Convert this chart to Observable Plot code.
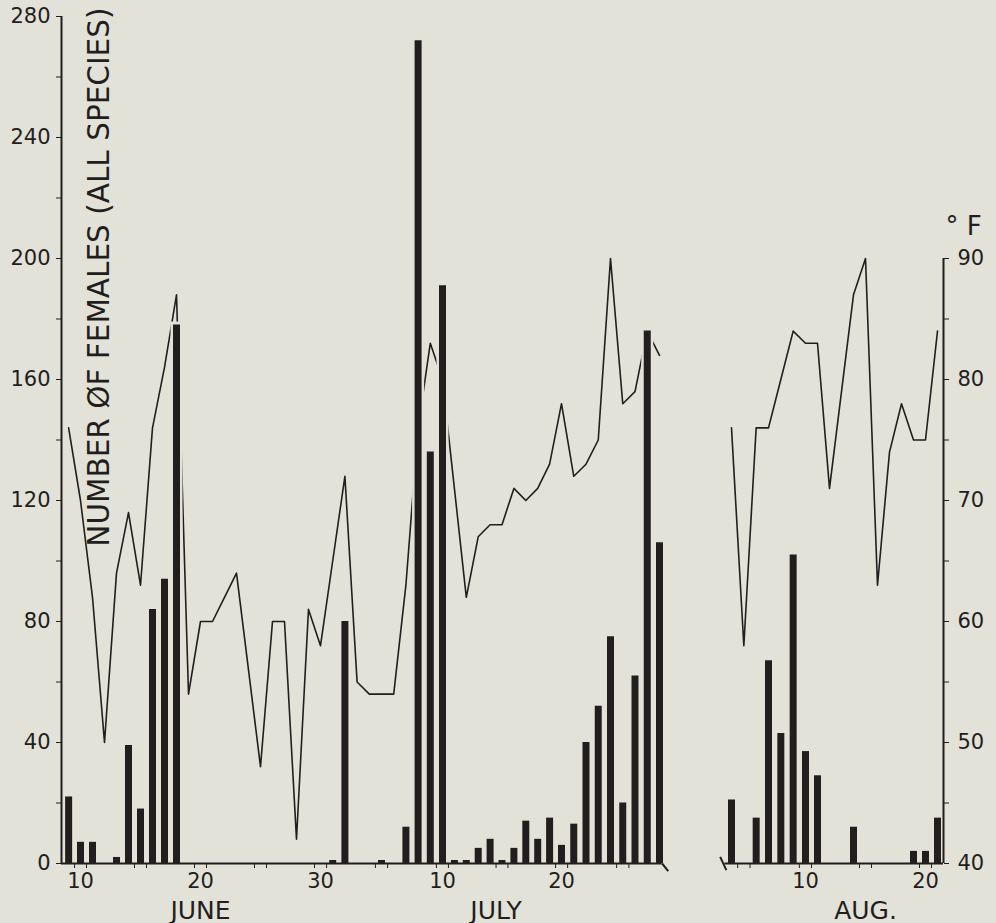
<!DOCTYPE html>
<html>
<head>
<meta charset="utf-8">
<script src="https://cdn.jsdelivr.net/npm/d3@7"></script>
<script src="https://cdn.jsdelivr.net/npm/@observablehq/plot@0.6"></script>
<style>
  html, body { margin: 0; padding: 0; background: #e2e2d8; }
  #chart svg { display: block; }
</style>
</head>
<body>
<div id="chart"></div>
<script>
// Day index of the season: June 1 = 1, July 1 = 31, August 1 = 62

// Bars: number of females (all species) per day
const barDays = [9, 10, 11, 13, 14, 15, 16, 17, 18,
  31, 32, 35, 37, 38, 39, 40, 41, 42, 43, 44, 45, 46, 47, 48, 49, 50, 51, 52, 53, 54, 55, 56, 57, 58,
  65, 67, 68, 69, 70, 71, 72, 75, 80, 81, 82];
const barCounts = [22, 7, 7, 2, 39, 18, 84, 94, 178,
  1, 80, 1, 12, 272, 136, 191, 1, 1, 5, 8, 1, 5, 14, 8, 15, 6, 13, 40, 52, 75, 20, 62, 176, 106,
  21, 15, 67, 43, 102, 37, 29, 12, 4, 4, 15];

// Temperature (°F), June 9 – July 28
const tempDaysJunJul = [9, 10, 11, 12, 13, 14, 15, 16, 17, 18,
  19, 20, 21, 22, 23, 24, 25, 26, 27, 28, 29, 30,
  31, 32, 33, 34, 35, 36, 37, 38, 39, 40, 41, 42, 43, 44, 45, 46, 47, 48, 49, 50,
  51, 52, 53, 54, 55, 56, 57, 58];
const tempsJunJul = [76, 70, 62, 50, 64, 69, 63, 76, 81, 87,
  54, 60, 60, 62, 64, 56, 48, 60, 60, 42, 61, 58,
  65, 72, 55, 54, 54, 54, 63, 76, 83, 80, 71, 62, 67, 68, 68, 71, 70, 71, 73, 78,
  72, 73, 75, 90, 78, 79, 84, 82];

// Temperature (°F), August 4 – August 21
const tempDaysAug = [65, 66, 67, 68, 69, 70, 71, 72, 73, 74, 75, 76, 77, 78, 79, 80, 81, 82];
const tempsAug = [76, 58, 76, 76, 80, 84, 83, 83, 71, 79, 87, 90, 63, 74, 78, 75, 75, 84];

// Axis ticks and labels
const countTicks = [0, 20, 40, 60, 80, 100, 120, 140, 160, 180, 200, 220, 240, 260, 280];
const countLabels = [0, 40, 80, 120, 160, 200, 240, 280];
const tempTicks = [40, 45, 50, 55, 60, 65, 70, 75, 80, 85, 90];
const tempLabels = [40, 50, 60, 70, 80, 90];
const dayTickCenters = [10, 15, 20, 25, 30, 35, 40, 45, 50, 55, 66, 71, 76, 81];
const dayLabelDays = [10, 20, 30, 40, 50, 71, 81];
const dayLabelText = ["10", "20", "30", "10", "20", "10", "20"];
const monthNames = ["JUNE", "JULY", "AUG."];
const monthLabelDays = [20, 44.5, 76];
const yTitle = "NUMBER ØF FEMALES (ALL SPECIES)";
const y2Title = "° F";

// Axis extent and the break between July and August
const xMin = 8.4, xMax = 82.5;
const axisSegments = [[xMin, 58.25], [64.35, xMax]];
const axisBreaks = [
  {x1: 58.25, y1: 0, x2: 58.85, y2: -2.5},
  {x1: 63.9, y1: 2.2, x2: 64.5, y2: -2.2}
];

const bg = "#e2e2d8";
const ink = "#231e1e";

const bars = barDays.map((day, i) => ({day, count: barCounts[i]}));
const tempA = tempDaysJunJul.map((day, i) => ({day, temp: tempsJunJul[i]}));
const tempB = tempDaysAug.map((day, i) => ({day, temp: tempsAug[i]}));
const toCount = f => (f - 40) * 4; // 40 °F ↔ 0, 90 °F ↔ 200

const plot = Plot.plot({
  width: 996,
  height: 923,
  marginLeft: 61,
  marginRight: 53,
  marginTop: 16,
  marginBottom: 60,
  style: {background: bg, color: ink, fontFamily: "'DejaVu Sans', sans-serif", fontSize: "21px"},
  x: {
    type: "linear",
    domain: [xMin, 10, 30, 40, 50, 58, 65, 71, 81, xMax],
    range: [61, 80, 320, 442, 561, 659, 731, 805, 925, 943],
    label: null
  },
  y: {domain: [0, 280], label: null},
  marks: [
    Plot.line(tempA, {x: "day", y: d => toCount(d.temp), stroke: ink, strokeWidth: 1.6}),
    Plot.line(tempB, {x: "day", y: d => toCount(d.temp), stroke: ink, strokeWidth: 1.6}),
    Plot.ruleX(bars, {x: "day", y1: "count", y2: 0, stroke: bg, strokeWidth: 12, insetTop: -3}),
    Plot.ruleX(bars, {x: "day", y1: "count", y2: 0, stroke: ink, strokeWidth: 7}),
    Plot.ruleY(axisSegments, {x1: d => d[0], x2: d => d[1], y: 0, stroke: ink, strokeWidth: 2}),
    Plot.link(axisBreaks, {x1: "x1", y1: "y1", x2: "x2", y2: "y2", stroke: ink, strokeWidth: 2}),
    Plot.ruleX([xMin], {y1: 0, y2: 280, stroke: ink, strokeWidth: 2}),
    Plot.ruleX([xMax], {y1: 0, y2: toCount(90), stroke: ink, strokeWidth: 2}),
    Plot.axisY({
      anchor: "left", ticks: countTicks, tickSize: 5, tickPadding: 6,
      tickFormat: d => countLabels.includes(d) ? String(d) : ""
    }),
    Plot.axisY({
      anchor: "right", ticks: tempTicks.map(toCount), tickSize: 5, tickPadding: 9,
      tickFormat: d => tempLabels.includes(40 + d / 4) ? String(40 + d / 4) : ""
    }),
    Plot.axisX({
      ticks: dayTickCenters.flatMap(d => [d - 0.5, d + 0.5]), tickSize: 5, tickFormat: () => ""
    }),
    Plot.axisX({
      ticks: dayLabelDays, tickSize: 0, tickPadding: 10,
      tickFormat: d => dayLabelText[dayLabelDays.indexOf(d)]
    }),
    Plot.text(monthNames, {x: (d, i) => monthLabelDays[i], y: 0, text: d => d, dy: 47, fontSize: 25}),
    Plot.text([yTitle], {
      frameAnchor: "top-left", dx: 38, dy: -9, rotate: -90, textAnchor: "end",
      lineAnchor: "middle", text: d => d, fontSize: 29.5
    }),
    Plot.text([y2Title], {
      frameAnchor: "top-right", dx: 2, dy: 200, textAnchor: "start", text: d => d, fontSize: 26
    })
  ]
});

document.getElementById("chart").appendChild(plot);
</script>
</body>
</html>
